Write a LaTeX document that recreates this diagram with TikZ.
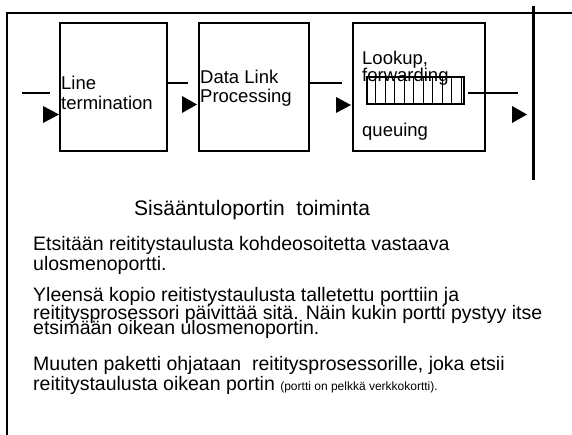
\documentclass[tikz,border=0pt]{standalone}
\usepackage{fontspec}
\setmainfont{Liberation Sans}
\usetikzlibrary{calc}
\begin{document}
\begin{tikzpicture}[x=1pt,y=-1pt,
  frame/.style={line width=1.3pt},
  blk/.style={draw,line width=1.3pt,rectangle,inner sep=0pt},
  wire/.style={line width=1.2pt},
  tip/.style={fill=black,draw=none},
  boxtext/.style={anchor=base west,inner sep=0pt,font=\fontsize{18.5}{20}\selectfont},
  body/.style={anchor=base west,inner sep=0pt,font=\fontsize{19.5}{20}\selectfont},
  heading/.style={anchor=base west,inner sep=0pt,font=\fontsize{21}{24}\selectfont}]
\useasboundingbox (0,0) rectangle (572,435);

% outer frame (top and left edges) and the port boundary
\draw[frame] (7,435) -- (7,13) -- (572,13);
\draw[line width=3pt] (533,6) -- (533,180);

% processing stages
\node[blk,minimum width=107pt,minimum height=128pt] (lt)  at (113.5,87) {};
\node[blk,minimum width=110pt,minimum height=128pt] (dlp) at (254,87) {};
\node[blk,minimum width=132pt,minimum height=128pt] (lfq) at (419,87) {};

% stage labels
\node[boxtext] (lt1) at (61,90) {Line};
\node[boxtext] (lt2) at (61,110) {termination};
\node[boxtext] (dl1) at (200,84) {Data Link};
\node[boxtext] (dl2) at (200,103) {Processing};
\node[boxtext] (lf1) at (362,65) {Lookup,};
\node[boxtext] (lf2) at (362,82) {forwarding};
\node[boxtext] (lf3) at (362,137) {queuing};

% queue buffer
\node[draw,line width=1.2pt,rectangle,inner sep=0pt,minimum width=97pt,minimum height=27pt] (q) at (415.5,90.5) {};
\foreach \k in {1,...,10}
  \draw[line width=1.1pt] ($(q.north west)+(9.5*\k,0)$) -- ($(q.south west)+(9.5*\k,0)$);

% links between stages
\coordinate (inA) at (22,93);
\coordinate (inB) at (50,93);
\coordinate (outA) at (518,93);
\draw[wire] (inA) -- (inB);
\draw[wire] (lt.east |- 0,83) -- (188,83);
\draw[wire] (dlp.east |- 0,83) -- (342,83);
\draw[wire] ($(q.east)+(3,2.5)$) -- (outA);

% direction markers
\fill[tip] (43,106) -- (59,114.5) -- (43,123) -- cycle;
\fill[tip] (182,96) -- (197,104.5) -- (182,113) -- cycle;
\fill[tip] (336,97) -- (351,105) -- (336,113) -- cycle;
\fill[tip] (512,106) -- (527,114.5) -- (512,123) -- cycle;

% description
\node[heading] (title) at (134,216) {Sisääntuloportin\ \ toiminta};
\node[body] (p1a) at (33,251) {Etsitään reititystaulusta kohdeosoitetta vastaava};
\node[body] (p1b) at (33,270) {ulosmenoportti.};
\node[body] (p2a) at (33,301) {Yleensä kopio reitistystaulusta talletettu porttiin ja};
\node[body] (p2b) at (33,319) {reititysprosessori päivittää sitä. Näin kukin portti pystyy itse};
\node[body] (p2c) at (33,334) {etsimään oikean ulosmenoportin.};
\node[body] (p3a) at (33,370) {Muuten paketti ohjataan\ \ reititysprosessorille, joka etsii};
\node[body] (p3b) at (33,390) {reititystaulusta oikean portin {\fontsize{12}{14}\selectfont(portti on pelkkä verkkokortti).}};
\end{tikzpicture}
\end{document}
